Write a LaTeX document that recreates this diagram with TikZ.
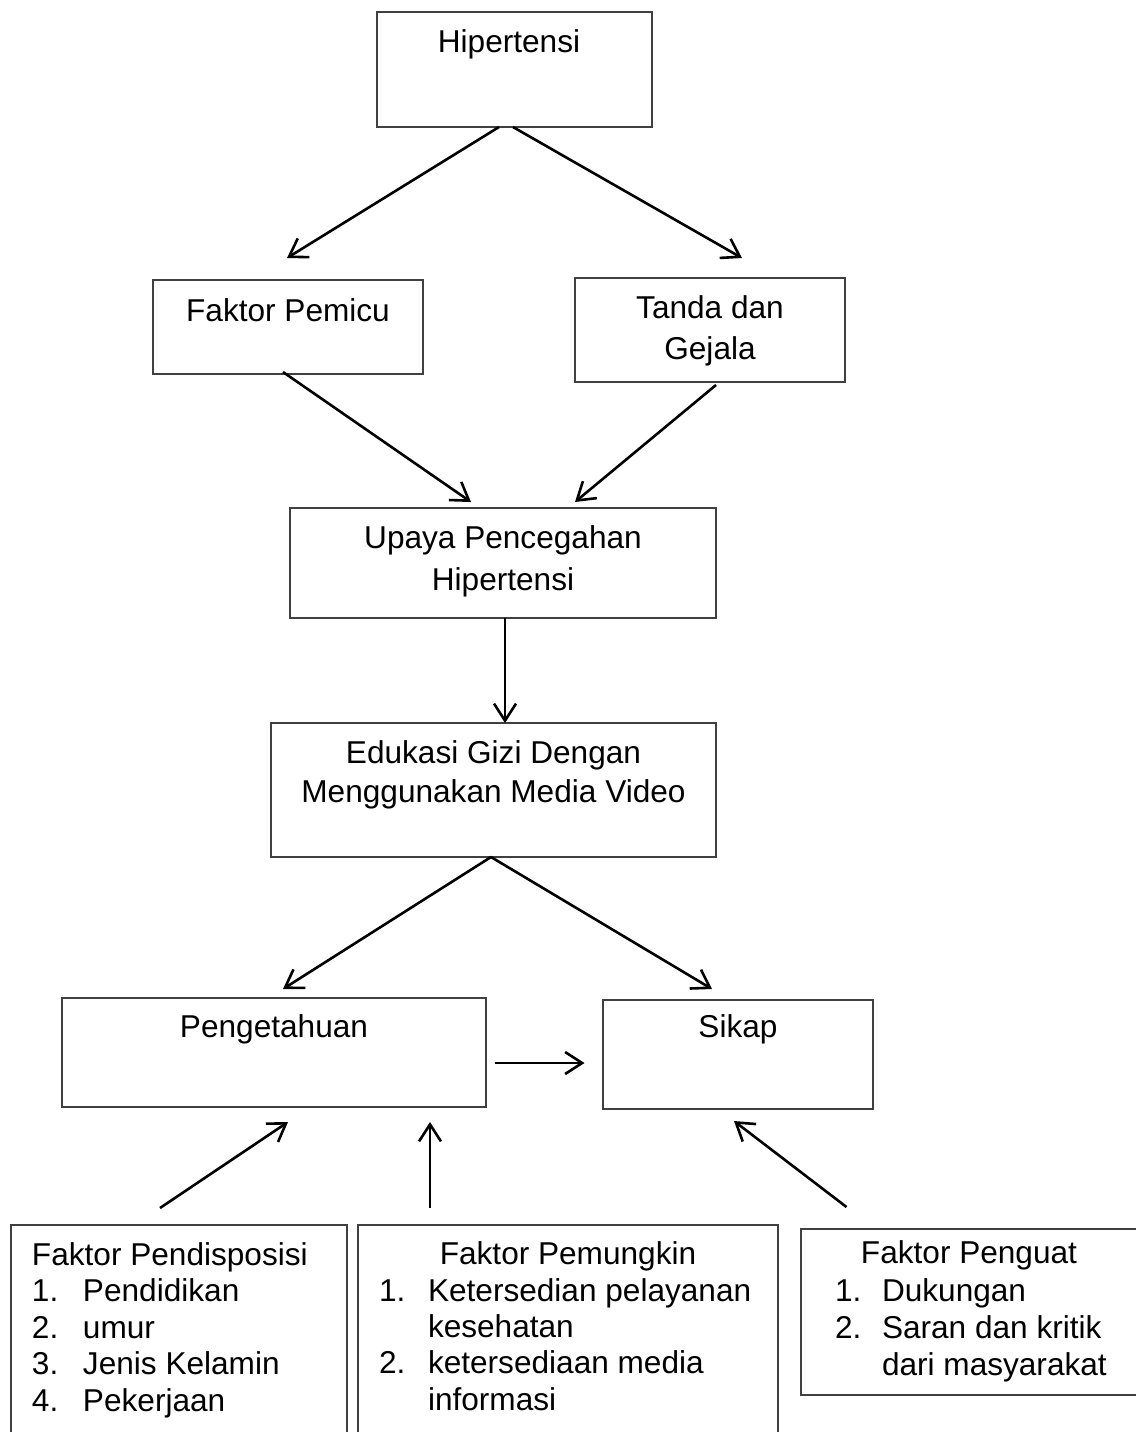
\documentclass[tikz,border=0pt]{standalone}
\usepackage{fontspec}
\setmainfont{Liberation Sans}
\usetikzlibrary{arrows.meta,calc}
\begin{document}
\begin{tikzpicture}[x=0.5pt,y=-0.5pt,
  box/.style={draw=black!75,line width=0.9pt,rectangle,inner sep=0pt,outer sep=0pt},
  txt/.style={inner sep=0pt,outer sep=0pt,font=\fontsize{15.8pt}{19pt}\selectfont},
  arr/.style={line width=1.3pt,-{Straight Barb[length=8.5pt,width=11pt,line width=1.3pt]}}]
\useasboundingbox (0,0) rectangle (1136,1432);
% boxes
\node[box,minimum width=137.5pt,minimum height=57.5pt] (hip) at (514.5,69.5) {};
\node[box,minimum width=135pt,minimum height=47pt] (pem) at (288,327) {};
\node[box,minimum width=135pt,minimum height=52pt] (tan) at (710,330) {};
\node[box,minimum width=213pt,minimum height=55pt] (upa) at (503,563) {};
\node[box,minimum width=222.5pt,minimum height=67pt] (edu) at (493.5,790) {};
\node[box,minimum width=212pt,minimum height=54.5pt] (pen) at (274,1052.5) {};
\node[box,minimum width=135pt,minimum height=54.5pt] (sik) at (738,1054.5) {};
\node[box,minimum width=168pt,minimum height=117.5pt] (fpd) at (179,1342.5) {};
\node[box,minimum width=210pt,minimum height=117.5pt] (fpm) at (568,1342.5) {};
\node[box,minimum width=168.5pt,minimum height=83pt] (fpg) at (969.5,1312) {};
% texts
\node[txt,anchor=base] (hipT) at (509,52) {Hipertensi};
\node[txt,anchor=base] (pemT) at (288,321) {Faktor Pemicu};
\node[txt,anchor=base] (tanT1) at (710,318) {Tanda dan};
\node[txt,anchor=base] (tanT2) at (710,359) {Gejala};
\node[txt,anchor=base] (upaT1) at (503,548) {Upaya Pencegahan};
\node[txt,anchor=base] (upaT2) at (503,590) {Hipertensi};
\node[txt,anchor=base] (eduT1) at (493.5,763) {Edukasi Gizi Dengan};
\node[txt,anchor=base] (eduT2) at (493.5,802) {Menggunakan Media Video};
\node[txt,anchor=base] (penT) at (274,1037) {Pengetahuan};
\node[txt,anchor=base] (sikT) at (738,1037) {Sikap};
% left bottom list
\node[txt,anchor=base west] (fpdT) at (32,1265) {Faktor Pendisposisi};
\node[txt,anchor=base west] (fpdN1) at (32,1301) {1.};
\node[txt,anchor=base west] (fpdI1) at (83,1301) {Pendidikan};
\node[txt,anchor=base west] (fpdN2) at (32,1338) {2.};
\node[txt,anchor=base west] (fpdI2) at (83,1338) {umur};
\node[txt,anchor=base west] (fpdN3) at (32,1374) {3.};
\node[txt,anchor=base west] (fpdI3) at (83,1374) {Jenis Kelamin};
\node[txt,anchor=base west] (fpdN4) at (32,1411) {4.};
\node[txt,anchor=base west] (fpdI4) at (83,1411) {Pekerjaan};
% middle bottom list
\node[txt,anchor=base] (fpmT) at (568,1264) {Faktor Pemungkin};
\node[txt,anchor=base west] (fpmN1) at (379,1301) {1.};
\node[txt,anchor=base west] (fpmI1) at (428,1301) {Ketersedian pelayanan};
\node[txt,anchor=base west] (fpmI1b) at (428,1337) {kesehatan};
\node[txt,anchor=base west] (fpmN2) at (379,1373) {2.};
\node[txt,anchor=base west] (fpmI2) at (428,1373) {ketersediaan media};
\node[txt,anchor=base west] (fpmI2b) at (428,1410) {informasi};
% right bottom list
\node[txt,anchor=base] (fpgT) at (969,1263) {Faktor Penguat};
\node[txt,anchor=base west] (fpgN1) at (835,1301) {1.};
\node[txt,anchor=base west] (fpgI1) at (882,1301) {Dukungan};
\node[txt,anchor=base west] (fpgN2) at (835,1338) {2.};
\node[txt,anchor=base west] (fpgI2) at (882,1338) {Saran dan kritik};
\node[txt,anchor=base west] (fpgI2b) at (882,1375) {dari masyarakat};
% connectors
\draw[arr] ($(hip.south)+(-15.5,0)$) -- ($(pem.north)+(-1,-22)$);
\draw[arr] ($(hip.south)+(-1.5,0)$) -- ($(tan.north)+(32,-20)$);
\draw[arr] ($(pem.south)+(-5,-2)$) -- ($(upa.north)+(-32,-6)$);
\draw[arr] ($(tan.south)+(6,3)$) -- ($(upa.north)+(72,-6)$);
\draw[arr] ($(upa.south)+(2,0)$) -- ($(edu.north)+(11.5,0)$);
\draw[arr] ($(edu.south)+(-2.5,0)$) -- ($(pen.north)+(9,-9)$);
\draw[arr] ($(edu.south)+(-2.5,0)$) -- ($(sik.north)+(-26,-11)$);
\draw[arr] ($(pen.east)+(8.6,10.5)$) -- ($(sik.west)+(-18.5,8.5)$);
\draw[arr] ($(fpd.north)+(-19,-17)$) -- ($(pen.south)+(14,15)$);
\draw[arr] ($(fpm.north)+(-138,-17)$) -- ($(pen.south)+(156,15)$);
\draw[arr] ($(fpg.north)+(-123,-22)$) -- ($(sik.south)+(-4,12)$);
\end{tikzpicture}
\end{document}
